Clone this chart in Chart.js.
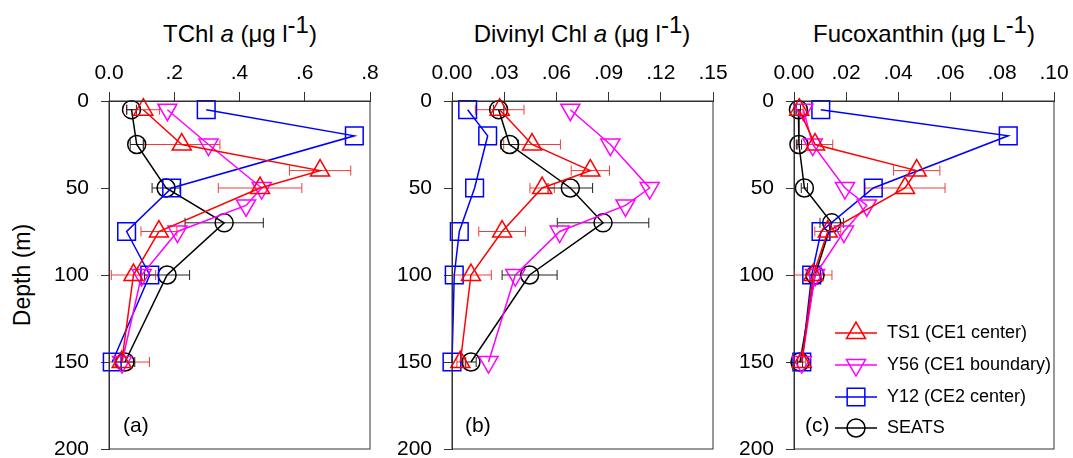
<!DOCTYPE html>
<html>
<head>
<meta charset="utf-8">
<script src="https://cdn.jsdelivr.net/npm/chart.js@4.4.1/dist/chart.umd.min.js"></script>
<style>
	body { margin: 0; width: 1073px; height: 458px; overflow: hidden; background: #fff; font-family: 'Liberation Sans', Arial, sans-serif; position: relative; }
	canvas { position: absolute; top: 0; }
	.titulo { position: absolute; top: 22px; width: 320px; text-align: center; font-size: 24px; line-height: 24px; white-space: nowrap; }
	.titulo sup { font-size: 1em; vertical-align: baseline; position: relative; top: -9px; }
	#profundidade { position: absolute; left: 22px; top: 275px; font-size: 23px; transform: translate(-50%, -50%) rotate(-90deg); white-space: nowrap; }
</style>
</head>
<body>
<div class="titulo" style="left:80px">TChl <i>a</i> (μg l<sup>-1</sup>)</div>
<div class="titulo" style="left:422px">Divinyl Chl <i>a</i> (μg l<sup>-1</sup>)</div>
<div class="titulo" style="left:764px">Fucoxanthin (μg L<sup>-1</sup>)</div>
<div id="profundidade">Depth (m)</div>
<canvas id="graficoA" width="394" height="490" style="left:0px"></canvas>
<canvas id="graficoB" width="347" height="490" style="left:390px"></canvas>
<canvas id="graficoC" width="345" height="490" style="left:733px"></canvas>
<script>
// Profundidades (m) de cada estação
const profTS1 = [5, 25, 40, 50, 75, 100, 150];
const profY56 = [5, 25, 50, 60, 75, 100, 150];
const profY12 = [5, 20, 50, 75, 100, 150];
const profSEATS = [5, 25, 50, 70, 100, 150];

// Rótulos dos eixos
const rotulosProf = ['0', '50', '100', '150', '200'];
const rotulosA = ['0.0', '.2', '.4', '.6', '.8'];
const rotulosB = ['0.00', '.03', '.06', '.09', '.12', '.15'];
const rotulosC = ['0.00', '.02', '.04', '.06', '.08', '.10'];

// (a) TChl a
const tchlTS1 = [0.105, 0.223, 0.647, 0.463, 0.153, 0.075, 0.039];
const tchlTS1Erro = [0.05, 0.117, 0.094, 0.128, 0.055, 0.068, 0.085];
const tchlY56 = [0.179, 0.305, 0.468, 0.42, 0.21, 0.1, 0.04];
const tchlY12 = [0.298, 0.752, 0.192, 0.054, 0.125, 0.01];
const tchlSEATS = [0.069, 0.085, 0.175, 0.353, 0.178, 0.049];
const tchlSEATSErro = [0.015, 0.02, 0.043, 0.12, 0.069, 0.03];

// (b) Divinyl Chl a
const dvTS1 = [0.0274, 0.046, 0.0795, 0.0518, 0.0288, 0.0109, 0.0048];
const dvTS1Erro = [0.014, 0.0163, 0.011, 0.007, 0.0134, 0.0117, 0.002];
const dvY56 = [0.068, 0.091, 0.1136, 0.0997, 0.0619, 0.0364, 0.021];
const dvY12 = [0.009, 0.0205, 0.013, 0.0042, 0.0013, 0.0];
const dvSEATS = [0.0268, 0.0331, 0.068, 0.0868, 0.0446, 0.0109];
const dvSEATSErro = [0.003, 0.005, 0.0128, 0.0263, 0.0158, 0.003];

// (c) Fucoxanthin
const fucoTS1 = [0.002, 0.0081, 0.0472, 0.0427, 0.013, 0.0074, 0.003];
const fucoTS1Erro = [0.0015, 0.0068, 0.0089, 0.0154, 0.005, 0.0072, 0.0015];
const fucoY56 = [0.0036, 0.0072, 0.0196, 0.028, 0.0192, 0.0081, 0.003];
const fucoY12 = [0.0103, 0.0824, 0.0305, 0.0104, 0.0068, 0.003];
const fucoSEATS = [0.0017, 0.0019, 0.004, 0.0145, 0.0081, 0.0023];
const fucoSEATSErro = [0.0008, 0.001, 0.0012, 0.0045, 0.002, 0.001];

const nomes = ['TS1 (CE1 center)', 'Y56 (CE1 boundary)', 'Y12 (CE2 center)', 'SEATS'];
const cores = ['#ff0000', '#ff00ff', '#0000ff', '#000000'];
const coresErro = ['#f03c3c', null, null, '#222222'];
const estilos = [
	{ forma: 'triangle', rot: 0, raio: 11 },
	{ forma: 'triangle', rot: 180, raio: 11 },
	{ forma: 'rect', rot: 0, raio: 12.5 },
	{ forma: 'circle', rot: 0, raio: 9 }
];
const corEixo = '#333333';
const fonte = "'Liberation Sans', Arial, sans-serif";

function serie(k, prof, valores, erros) {
	return {
		label: nomes[k],
		data: prof.map((p, i) => ({ x: valores[i], y: p })),
		erros: erros,
		corErro: coresErro[k],
		showLine: true,
		borderColor: cores[k],
		borderWidth: 1.5,
		pointStyle: estilos[k].forma,
		pointRotation: estilos[k].rot,
		pointRadius: estilos[k].raio,
		pointBorderColor: cores[k],
		pointBorderWidth: 1.5,
		pointBackgroundColor: 'rgba(0,0,0,0)',
		clip: false
	};
}

// barras de erro horizontais
const barrasErro = {
	id: 'barrasErro',
	beforeDatasetsDraw(chart) {
		const ctx = chart.ctx, xs = chart.scales.x, ys = chart.scales.y, a = chart.chartArea;
		ctx.save();
		ctx.beginPath();
		ctx.rect(a.left, a.top, a.right - a.left, a.bottom - a.top);
		ctx.clip();
		chart.data.datasets.forEach(ds => {
			if (!ds.erros) return;
			ctx.strokeStyle = ds.corErro;
			ctx.lineWidth = 1;
			ds.data.forEach((p, i) => {
				const e = ds.erros[i];
				const x1 = xs.getPixelForValue(p.x - e), x2 = xs.getPixelForValue(p.x + e);
				const y = ys.getPixelForValue(p.y);
				ctx.beginPath();
				ctx.moveTo(x1, y); ctx.lineTo(x2, y);
				ctx.moveTo(x1, y - 5); ctx.lineTo(x1, y + 5);
				ctx.moveTo(x2, y - 5); ctx.lineTo(x2, y + 5);
				ctx.stroke();
			});
		});
		ctx.restore();
	}
};

function desenharMarcador(ctx, k, x, y) {
	const r = estilos[k].raio;
	ctx.beginPath();
	if (estilos[k].forma === 'circle') {
		ctx.arc(x, y, r, 0, Math.PI * 2);
	} else if (estilos[k].forma === 'rect') {
		const s = Math.SQRT1_2 * r;
		ctx.rect(x - s, y - s, 2 * s, 2 * s);
	} else {
		let ang = estilos[k].rot * Math.PI / 180;
		for (let j = 0; j < 3; j++) {
			const px = x + Math.sin(ang) * r, py = y - Math.cos(ang) * r;
			if (j === 0) ctx.moveTo(px, py); else ctx.lineTo(px, py);
			ang += Math.PI * 2 / 3;
		}
		ctx.closePath();
	}
	ctx.stroke();
}

// moldura, letra do painel e legenda
const extras = {
	id: 'extras',
	afterDraw(chart, args, opts) {
		const ctx = chart.ctx, a = chart.chartArea;
		ctx.save();
		ctx.strokeStyle = corEixo;
		ctx.lineWidth = 1;
		ctx.strokeRect(a.left, a.top, a.right - a.left, a.bottom - a.top);
		ctx.fillStyle = '#000';
		ctx.font = '21px ' + fonte;
		ctx.textBaseline = 'middle';
		ctx.textAlign = 'left';
		ctx.fillText(opts.letra, a.left + opts.letraX, a.bottom - 23);
		if (opts.legenda) {
			const linhas = [116, 84, 52, 21];
			ctx.font = '18px ' + fonte;
			linhas.forEach((dy, k) => {
				const y = a.bottom - dy;
				ctx.strokeStyle = cores[k];
				ctx.lineWidth = 1.5;
				ctx.beginPath();
				ctx.moveTo(a.left + 41, y); ctx.lineTo(a.left + 83, y);
				ctx.stroke();
				desenharMarcador(ctx, k, a.left + 62, y);
				ctx.fillStyle = '#000';
				ctx.fillText(nomes[k], a.left + 93, y);
			});
		}
		ctx.restore();
	}
};

function criarGrafico(id, datasets, rotulosX, larguraY, direita, letra, letraX, legenda) {
	const valoresX = rotulosX.map(r => parseFloat(r));
	return new Chart(document.getElementById(id), {
		type: 'scatter',
		data: { datasets: datasets },
		plugins: [barrasErro, extras],
		options: {
			responsive: false,
			animation: false,
			devicePixelRatio: 1,
			layout: { padding: { left: 0, right: direita, top: 0, bottom: 41 } },
			plugins: {
				legend: { display: false },
				tooltip: { enabled: false },
				extras: { letra: letra, letraX: letraX, legenda: legenda }
			},
			scales: {
				x: {
					type: 'linear',
					position: 'top',
					min: valoresX[0],
					max: valoresX[valoresX.length - 1],
					afterBuildTicks: s => { s.ticks = valoresX.map(v => ({ value: v })); },
					afterFit: s => { s.height = 101; },
					ticks: {
						callback: (v, i) => rotulosX[i],
						padding: 6,
						color: '#000',
						maxRotation: 0,
						autoSkip: false,
						font: { family: fonte, size: 21 }
					},
					grid: { drawOnChartArea: false, tickLength: 9, color: corEixo },
					border: { color: corEixo }
				},
				y: {
					type: 'linear',
					reverse: true,
					min: 0,
					max: 200,
					afterBuildTicks: s => { s.ticks = rotulosProf.map(r => ({ value: parseFloat(r) })); },
					afterFit: s => { s.width = larguraY; },
					ticks: {
						callback: (v, i) => rotulosProf[i],
						padding: 12,
						color: '#000',
						autoSkip: false,
						font: { family: fonte, size: 21 }
					},
					grid: { drawOnChartArea: false, tickLength: 8, color: corEixo },
					border: { color: corEixo }
				}
			}
		}
	});
}

criarGrafico('graficoA', [
	serie(0, profTS1, tchlTS1, tchlTS1Erro),
	serie(1, profY56, tchlY56, null),
	serie(2, profY12, tchlY12, null),
	serie(3, profSEATS, tchlSEATS, tchlSEATSErro)
], rotulosA, 109, 24, '(a)', 14, false);

criarGrafico('graficoB', [
	serie(0, profTS1, dvTS1, dvTS1Erro),
	serie(1, profY56, dvY56, null),
	serie(2, profY12, dvY12, null),
	serie(3, profSEATS, dvSEATS, dvSEATSErro)
], rotulosB, 62, 24, '(b)', 13, false);

criarGrafico('graficoC', [
	serie(0, profTS1, fucoTS1, fucoTS1Erro),
	serie(1, profY56, fucoY56, null),
	serie(2, profY12, fucoY12, null),
	serie(3, profSEATS, fucoSEATS, fucoSEATSErro)
], rotulosC, 61, 24, '(c)', 11, true);
</script>
</body>
</html>
